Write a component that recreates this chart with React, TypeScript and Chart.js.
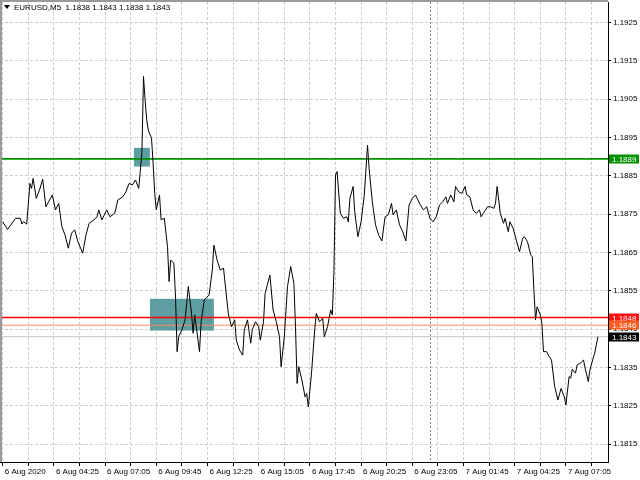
import React, { useEffect, useRef } from 'react';
import { Chart, registerables } from 'chart.js';

Chart.register(...registerables);

// ---------- data ----------
const symbolTitle = 'EURUSD,M5  1.1838 1.1843 1.1838 1.1843';

const timeLabels = [
  '6 Aug 2020', '6 Aug 04:25', '6 Aug 07:05', '6 Aug 09:45', '6 Aug 12:25', '6 Aug 15:05',
  '6 Aug 17:45', '6 Aug 20:25', '6 Aug 23:05', '7 Aug 01:45', '7 Aug 04:25', '7 Aug 07:05',
];
const barsPerLabel = 32;
const barsPerGrid = 16;

const priceTicks = [
  1.1815, 1.1825, 1.1835, 1.1845, 1.1855, 1.1865, 1.1875, 1.1885, 1.1895, 1.1905, 1.1915, 1.1925,
];

const barIdx = [
  0, 3, 8, 11, 12, 13, 15, 17, 18, 19,
  21, 23, 25, 27, 31, 33, 35, 37, 39, 41,
  43, 45, 47, 50, 52, 54, 57, 59, 60, 62,
  65, 67, 70, 72, 75, 77, 79, 81, 83, 85,
  87, 88, 89, 90, 91, 93, 94, 95, 96, 98,
  99, 101, 103, 104, 105, 107, 108, 109, 110, 112,
  114, 116, 118, 119, 120, 123, 124, 126, 129, 131,
  132, 134, 136, 138, 139, 141, 143, 145, 146, 148,
  150, 151, 153, 155, 156, 158, 160, 161, 163, 164,
  167, 169, 171, 173, 174, 176, 178, 180, 182, 183,
  184, 185, 187, 189, 190, 191, 193, 195, 196, 198,
  200, 201, 203, 205, 206, 207, 208, 209, 211, 213,
  215, 216, 217, 219, 220, 222, 224, 226, 228, 229,
  231, 233, 235, 237, 239, 241, 243, 244, 246, 248,
  250, 252, 254, 256, 258, 261, 263, 265, 267, 269,
  271, 273, 275, 277, 278, 280, 282, 283, 285, 287,
  289, 290, 292, 294, 296, 298, 299, 301, 303, 305,
  307, 308, 309, 311, 313, 314, 316, 317, 319, 321,
  323, 325, 326, 328, 330, 331, 332, 333, 334, 336,
  337, 338, 340, 341, 343, 345, 347, 349, 351, 352,
  354, 355, 356, 358, 359, 361, 363, 364, 366, 367, 369, 370, 372,
];

const closes = [
  1.18730, 1.18710, 1.18739, 1.18739, 1.18724, 1.18730, 1.18724, 1.18830, 1.18817, 1.18843,
  1.18791, 1.18813, 1.18841, 1.18769, 1.18800, 1.18761, 1.18778, 1.18717, 1.18695, 1.18661,
  1.18700, 1.18709, 1.18678, 1.18648, 1.18695, 1.18726, 1.18735, 1.18743, 1.18761, 1.18735,
  1.18761, 1.18743, 1.18752, 1.18787, 1.18795, 1.18808, 1.18830, 1.18826, 1.18839, 1.18817,
  1.18909, 1.19109, 1.19048, 1.18996, 1.18969, 1.18948, 1.18883, 1.18804, 1.18761, 1.18800,
  1.18735, 1.18739, 1.18665, 1.18574, 1.18630, 1.18622, 1.18534, 1.18391, 1.18430, 1.18448,
  1.18474, 1.18561, 1.18491, 1.18439, 1.18487, 1.18391, 1.18469, 1.18526, 1.18539, 1.18604,
  1.18669, 1.18630, 1.18604, 1.18609, 1.18569, 1.18491, 1.18456, 1.18474, 1.18421, 1.18395,
  1.18382, 1.18448, 1.18474, 1.18413, 1.18448, 1.18469, 1.18456, 1.18421, 1.18469, 1.18543,
  1.18591, 1.18500, 1.18469, 1.18430, 1.18352, 1.18430, 1.18561, 1.18613, 1.18569, 1.18456,
  1.18308, 1.18352, 1.18317, 1.18273, 1.18282, 1.18247, 1.18335, 1.18448, 1.18491, 1.18469,
  1.18478, 1.18430, 1.18456, 1.18500, 1.18487, 1.18596, 1.18852, 1.18861, 1.18752, 1.18739,
  1.18743, 1.18730, 1.18791, 1.18822, 1.18756, 1.18691, 1.18730, 1.18800, 1.18930, 1.18870,
  1.18782, 1.18722, 1.18695, 1.18680, 1.18743, 1.18748, 1.18778, 1.18748, 1.18761, 1.18722,
  1.18704, 1.18680, 1.18774, 1.18791, 1.18800, 1.18774, 1.18761, 1.18769, 1.18739, 1.18730,
  1.18743, 1.18774, 1.18782, 1.18795, 1.18778, 1.18800, 1.18782, 1.18822, 1.18808, 1.18804,
  1.18822, 1.18800, 1.18795, 1.18761, 1.18752, 1.18761, 1.18743, 1.18756, 1.18769, 1.18769,
  1.18765, 1.18778, 1.18822, 1.18752, 1.18726, 1.18739, 1.18704, 1.18730, 1.18713, 1.18682,
  1.18652, 1.18687, 1.18691, 1.18678, 1.18643, 1.18639, 1.18552, 1.18474, 1.18508, 1.18487,
  1.18465, 1.18391, 1.18391, 1.18382, 1.18369, 1.18300, 1.18265, 1.18295, 1.18273, 1.18252,
  1.18326, 1.18322, 1.18345, 1.18335, 1.18356, 1.18361, 1.18369, 1.18348, 1.18313, 1.18343, 1.18374, 1.18387, 1.18430,
];

// rectangles (zones): bar range and price range
const zoneFrom = [82, 92];
const zoneTo = [92, 132];
const zoneHigh = [1.18923, 1.18529];
const zoneLow = [1.18874, 1.18446];

// horizontal levels
const levelValues = [1.18894, 1.1848, 1.1846, 1.1843];

const daySeparatorBar = 267;

const xMin = -1.69;
const xMax = 378.31;
const yMin = 1.181031;
const yMax = 1.193035;

// ---------- styles ----------
const FONT_FAMILY = '"Liberation Sans", Arial, sans-serif';
const FONT_SIZE = 8;
const levelLineColors = ['#009000', '#ff0000', '#ff8a60', '#c4c4c4'];
const levelLineWidths = [1.6, 1.6, 1, 1];
const levelLabelColors = ['#009000', '#ff1010', '#ff5a20', '#000000'];
const zoneColor = '#5f9ea0';
const gridColor = '#cccccc';

const overlayPlugin = {
  id: 'mtOverlay',
  beforeDatasetsDraw(chart: any) {
    const { ctx, chartArea: a, scales } = chart;
    const x = scales.x;
    const y = scales.y;
    ctx.save();
    ctx.beginPath();
    ctx.rect(a.left, a.top, a.right - a.left, a.bottom - a.top);
    ctx.clip();
    // zones
    ctx.fillStyle = zoneColor;
    zoneFrom.forEach((f, i) => {
      const x1 = x.getPixelForValue(f);
      const x2 = x.getPixelForValue(zoneTo[i]);
      const y1 = y.getPixelForValue(zoneHigh[i]);
      const y2 = y.getPixelForValue(zoneLow[i]);
      ctx.fillRect(x1, y1, x2 - x1, y2 - y1);
    });
    // day separator
    const sx = Math.round(x.getPixelForValue(daySeparatorBar)) + 0.5;
    ctx.strokeStyle = '#8a8a8a';
    ctx.lineWidth = 1;
    ctx.setLineDash([2, 2]);
    ctx.beginPath();
    ctx.moveTo(sx, a.top);
    ctx.lineTo(sx, a.bottom);
    ctx.stroke();
    ctx.setLineDash([]);
    // levels
    levelValues.forEach((v, i) => {
      const py = y.getPixelForValue(v);
      ctx.strokeStyle = levelLineColors[i];
      ctx.lineWidth = levelLineWidths[i];
      ctx.beginPath();
      ctx.moveTo(a.left, py);
      ctx.lineTo(a.right, py);
      ctx.stroke();
    });
    ctx.restore();
  },
  afterDraw(chart: any) {
    const { ctx, chartArea: a, scales } = chart;
    const y = scales.y;
    ctx.save();
    // frame (top and left)
    ctx.strokeStyle = '#9a9a9a';
    ctx.lineWidth = 2;
    ctx.beginPath();
    ctx.moveTo(0, a.top - 1);
    ctx.lineTo(a.right, a.top - 1);
    ctx.moveTo(1, a.top - 1);
    ctx.lineTo(1, a.bottom);
    ctx.stroke();
    // title
    ctx.fillStyle = '#000';
    ctx.beginPath();
    ctx.moveTo(4, 5);
    ctx.lineTo(10, 5);
    ctx.lineTo(7, 9);
    ctx.closePath();
    ctx.fill();
    ctx.font = `${FONT_SIZE}px ${FONT_FAMILY}`;
    ctx.textBaseline = 'middle';
    ctx.textAlign = 'left';
    ctx.fillText(symbolTitle, 14, 8);
    // level labels on price axis
    levelValues.forEach((v, i) => {
      const py = y.getPixelForValue(v);
      ctx.fillStyle = levelLabelColors[i];
      ctx.fillRect(a.right + 1, Math.round(py) - 4.5, 30, 9);
      ctx.fillStyle = '#ffffff';
      ctx.fillText(v.toFixed(4), a.right + 4, Math.round(py) + 0.5);
    });
    ctx.restore();
  },
};

export default function App() {
  const canvasRef = useRef<HTMLCanvasElement | null>(null);

  useEffect(() => {
    const canvas = canvasRef.current;
    if (!canvas) return;
    const chart = new Chart(canvas, {
      type: 'line',
      data: {
        datasets: [
          {
            data: barIdx.map((b, i) => ({ x: b, y: closes[i] })),
            borderColor: '#000000',
            borderWidth: 1,
            pointRadius: 0,
            tension: 0,
            fill: false,
          },
        ],
      },
      options: {
        animation: false,
        responsive: false,
        events: [],
        layout: { padding: { top: 2, left: 0, right: 0, bottom: 0 } },
        plugins: { legend: { display: false }, tooltip: { enabled: false }, title: { display: false } },
        scales: {
          x: {
            type: 'linear',
            position: 'bottom',
            min: xMin,
            max: xMax,
            afterBuildTicks: (s: any) => {
              const t: any[] = [];
              for (let b = 0; b <= xMax; b += barsPerGrid) t.push({ value: b });
              s.ticks = t;
            },
            afterFit: (s: any) => {
              s.height = 18;
              s.paddingLeft = 0;
              s.paddingRight = 0;
            },
            ticks: {
              autoSkip: false,
              maxRotation: 0,
              minRotation: 0,
              align: 'start',
              labelOffset: 2,
              padding: 1,
              color: '#000',
              font: { family: FONT_FAMILY, size: FONT_SIZE },
              callback: (v: any) => {
                const b = Number(v);
                if (b % barsPerLabel !== 0) return '';
                return timeLabels[b / barsPerLabel] ?? '';
              },
            },
            grid: { color: gridColor, tickColor: '#000', tickLength: 4, lineWidth: 1 },
            border: { display: true, color: '#000', width: 1, dash: [3, 2] },
          },
          y: {
            type: 'linear',
            position: 'right',
            min: yMin,
            max: yMax,
            afterBuildTicks: (s: any) => {
              s.ticks = priceTicks.map((v) => ({ value: v }));
            },
            afterFit: (s: any) => {
              s.width = 32;
              s.paddingTop = 0;
              s.paddingBottom = 0;
            },
            ticks: {
              autoSkip: false,
              padding: 2,
              color: '#000',
              font: { family: FONT_FAMILY, size: FONT_SIZE },
              callback: (v: any) => Number(v).toFixed(4),
            },
            grid: { color: gridColor, tickColor: '#000', tickLength: 3, lineWidth: 1 },
            border: { display: true, color: '#000', width: 1, dash: [3, 2] },
          },
        },
      },
      plugins: [overlayPlugin],
    } as any);
    return () => chart.destroy();
  }, []);

  return (
    <div style={{ position: 'fixed', left: 0, top: 0, width: 640, height: 480, background: '#fff' }}>
      <canvas ref={canvasRef} width={640} height={480} style={{ display: 'block' }} />
    </div>
  );
}
